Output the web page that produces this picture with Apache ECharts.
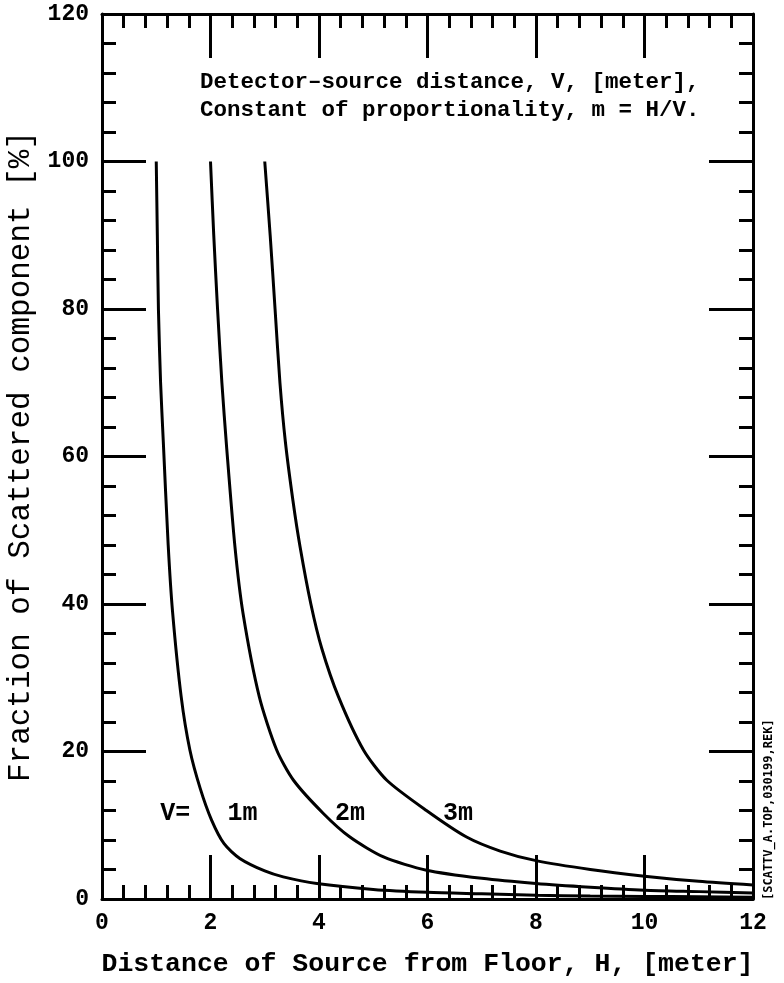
<!DOCTYPE html>
<html>
<head>
<meta charset="utf-8">
<script src="https://cdn.jsdelivr.net/npm/echarts@6/dist/echarts.min.js"></script>
<style>
  html, body { margin: 0; padding: 0; background: #fff; }
  #chart { width: 784px; height: 983px; }
</style>
</head>
<body>
<div id="chart"></div>
<script>
  // H [m] and fraction [%], one pair of arrays per curve
  var h1 = [1.0, 1.02, 1.04, 1.08, 1.13, 1.22, 1.30, 1.46, 1.62, 1.81, 2.02, 2.25, 2.54, 3.0, 3.34, 3.96, 5.0, 6.0, 7.0, 8.0, 9.0, 10.0, 11.0, 12.0];
  var f1 = [100, 90, 80, 70, 62, 48, 39, 27.4, 20.2, 15, 10.7, 7.5, 5.5, 3.8, 3.0, 2.1, 1.3, 0.9, 0.7, 0.5, 0.4, 0.35, 0.3, 0.25];
  var h2 = [2.0, 2.06, 2.13, 2.21, 2.3, 2.45, 2.6, 2.9, 3.22, 3.53, 4.08, 4.57, 5.19, 5.98, 7.0, 8.0, 9.0, 10.0, 11.0, 12.0];
  var f2 = [100, 90, 80, 70, 61, 47.8, 38.7, 27.4, 20.2, 16.1, 11.6, 8.4, 5.7, 3.9, 2.8, 2.1, 1.6, 1.2, 1.0, 0.8];
  var h3 = [3.0, 3.1, 3.19, 3.28, 3.38, 3.52, 3.65, 3.85, 4.05, 4.36, 4.82, 5.25, 5.98, 6.72, 7.34, 8.0, 9.0, 10.0, 11.0, 12.0];
  var f3 = [100, 90, 80, 70, 62, 54, 47.8, 40, 34, 27.4, 20.2, 16.1, 12.0, 8.4, 6.5, 5.2, 4.0, 3.1, 2.4, 1.9];

  var curveLabels = ['V=', '1m', '2m', '3m'];
  var labelH = [1.35, 2.59, 4.57, 6.56];
  var labelF = [11.5, 11.5, 11.5, 11.5];

  var note1 = 'Detector\u2013source distance, V, [meter],';
  var note2 = 'Constant of proportionality, m = H/V.';
  var tag = '[SCATTV_A.TOP,030199,REK]';

  function pairs(xs, ys) {
    var out = [];
    for (var i = 0; i < xs.length; i++) out.push([xs[i], ys[i]]);
    return out;
  }

  var font = 'Liberation Mono';
  var axisLine = { show: true, onZero: false, lineStyle: { color: '#000', width: 3 } };
  var tick = { show: true, inside: true, length: 44, lineStyle: { color: '#000', width: 3 } };
  var minor = { show: true, splitNumber: 5, length: 14, lineStyle: { color: '#000', width: 3 } };

  var myChart = echarts.init(document.getElementById('chart'));
  var curve = function (data) {
    return {
      type: 'line',
      data: data,
      showSymbol: false,
      smooth: 0.25,
      lineStyle: { color: '#000', width: 3 },
      z: 3
    };
  };

  var labelData = [];
  for (var i = 0; i < curveLabels.length; i++) {
    labelData.push({ value: [labelH[i], labelF[i]], name: curveLabels[i] });
  }

  myChart.setOption({
    backgroundColor: '#fff',
    animation: false,
    grid: { left: 102, right: 31, top: 14, bottom: 84, containLabel: false, outerBoundsMode: 'none' },
    xAxis: [{
      type: 'value', min: 0, max: 12, interval: 2,
      axisLine: axisLine, axisTick: tick, minorTick: minor,
      splitLine: { show: false },
      axisLabel: { margin: 13, color: '#000', fontFamily: font, fontWeight: 'bold', fontSize: 23 },
      name: 'Distance of Source from Floor, H, [meter]',
      nameLocation: 'middle', nameGap: 52,
      nameTextStyle: { color: '#000', fontFamily: font, fontWeight: 'bold', fontSize: 26.5 }
    }, {
      type: 'value', min: 0, max: 12, interval: 2, position: 'top',
      axisLine: axisLine, axisTick: tick, minorTick: minor,
      splitLine: { show: false }, axisLabel: { show: false }
    }],
    yAxis: [{
      type: 'value', min: 0, max: 120, interval: 20,
      axisLine: axisLine, axisTick: tick, minorTick: minor,
      splitLine: { show: false },
      axisLabel: { margin: 13, color: '#000', fontFamily: font, fontWeight: 'bold', fontSize: 23 },
      name: 'Fraction of Scattered component [%]',
      nameLocation: 'middle', nameGap: 62,
      nameTextStyle: { color: '#000', fontFamily: font, fontSize: 31 }
    }, {
      type: 'value', min: 0, max: 120, interval: 20, position: 'right',
      axisLine: axisLine, axisTick: tick, minorTick: minor,
      splitLine: { show: false }, axisLabel: { show: false }
    }],
    series: [
      curve(pairs(h1, f1)),
      curve(pairs(h2, f2)),
      curve(pairs(h3, f3)),
      {
        type: 'scatter',
        data: labelData,
        symbolSize: 0,
        itemStyle: { opacity: 1 },
        label: {
          show: true, position: 'inside', formatter: '{b}',
          color: '#000', opacity: 1, fontFamily: font, fontWeight: 'bold', fontSize: 25
        }
      }
    ],
    graphic: [
      { type: 'text', left: 200, top: 71,
        style: { text: note1, fill: '#000', font: 'bold 22.5px "Liberation Mono"' } },
      { type: 'text', left: 200, top: 99,
        style: { text: note2, fill: '#000', font: 'bold 22.5px "Liberation Mono"' } },
      { type: 'text', x: 763, y: 900, rotation: Math.PI / 2,
        style: { text: tag, fill: '#000', font: 'bold 12px "DejaVu Sans Mono"' } }
    ]
  });
</script>
</body>
</html>
